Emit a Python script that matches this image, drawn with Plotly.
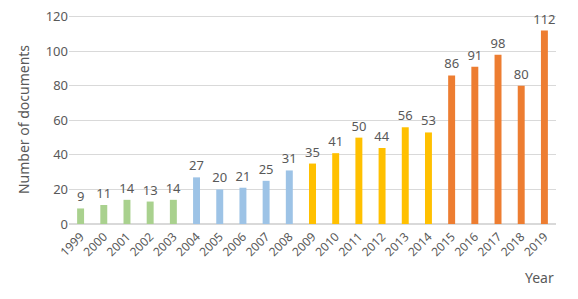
import plotly.graph_objects as go

years = [str(y) for y in range(1999, 2020)]
counts = [9, 11, 14, 13, 14, 27, 20, 21, 25, 31, 35, 41, 50, 44, 56, 53, 86, 91, 98, 80, 112]
group_sizes = [5, 5, 6, 5]
group_colors = ["#A9D18E", "#9DC3E6", "#FFC000", "#ED7D31"]

colors = []
for n, c in zip(group_sizes, group_colors):
    colors += [c] * n

fig = go.Figure(go.Bar(
    x=years, y=counts, marker_color=colors, marker_line_width=0,
    text=[str(v) for v in counts], textposition="outside", constraintext="none",
    textfont=dict(size=13, color="#595959"), cliponaxis=False,
))

fig.update_layout(
    width=562, height=283,
    margin=dict(l=61, r=14, t=7, b=67),
    paper_bgcolor="white", plot_bgcolor="white",
    font=dict(family="Noto Sans, DejaVu Sans, sans-serif", color="#595959", size=12),
    bargap=0.7, showlegend=False,
    xaxis=dict(tickangle=-45, showgrid=False, showline=True, linecolor="#D9D9D9",
               ticks="", automargin=False, tickfont=dict(size=12, color="#595959")),
    yaxis=dict(range=[0, 121], tickvals=[0, 20, 40, 60, 80, 100, 120], showgrid=True, gridcolor="#D9D9D9",
               zeroline=True, zerolinecolor="#D9D9D9", ticks="", automargin=False,
               ticklabeloverflow="allow",
               tickfont=dict(size=13, color="#595959"),
               title=dict(text="Number of documents", font=dict(size=14, color="#595959"), standoff=12)),
    annotations=[dict(text="Year", x=1, xref="paper", xanchor="right", y=-0.257, yref="paper",
                      yanchor="middle", showarrow=False, font=dict(size=14, color="#595959"))],
)

fig.write_html("out.html")
